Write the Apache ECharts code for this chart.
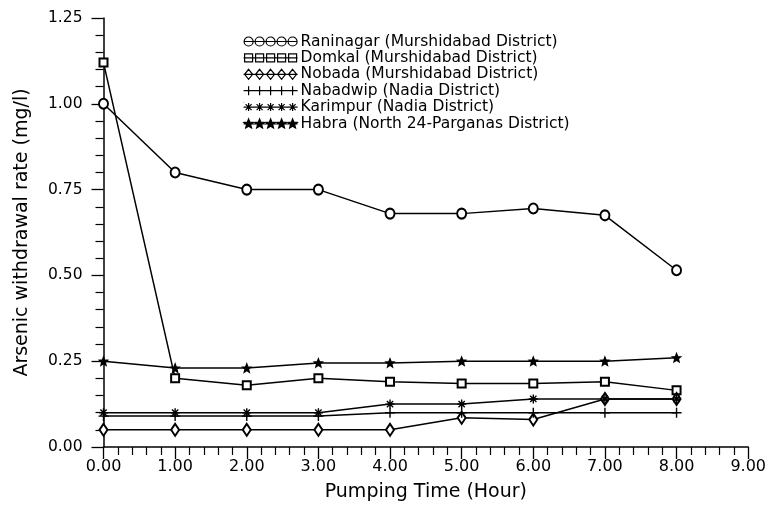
<!DOCTYPE html>
<html><head><meta charset="utf-8">
<script src="https://cdn.jsdelivr.net/npm/echarts@6/dist/echarts.min.js"></script>
<style>html,body{margin:0;padding:0;background:#fff}#c{width:769px;height:513px}</style>
</head><body><div id="c"></div>
<script>
const hours = [0, 1, 2, 3, 4, 5, 6, 7, 8];
const seriesNames = [
  'Raninagar (Murshidabad District)',
  'Domkal (Murshidabad District)',
  'Nobada (Murshidabad District)',
  'Nabadwip (Nadia District)',
  'Karimpur (Nadia District)',
  'Habra (North 24-Parganas District)'
];
const raninagar = [1.00, 0.80, 0.75, 0.75, 0.68, 0.68, 0.695, 0.675, 0.515];
const domkal    = [1.12, 0.20, 0.18, 0.20, 0.19, 0.185, 0.185, 0.19, 0.165];
const nobada    = [0.05, 0.05, 0.05, 0.05, 0.05, 0.085, 0.08, 0.14, 0.14];
const nabadwip  = [0.09, 0.09, 0.09, 0.09, 0.10, 0.10, 0.10, 0.10, 0.10];
const karimpur  = [0.10, 0.10, 0.10, 0.10, 0.125, 0.125, 0.14, 0.14, 0.14];
const habra     = [0.25, 0.23, 0.23, 0.245, 0.245, 0.25, 0.25, 0.25, 0.26];
const allValues = [raninagar, domkal, nobada, nabadwip, karimpur, habra];

// symbol shapes
const plusPath = 'path://M5,0L5,10M0,5L10,5';
const asteriskPath = 'path://M5,0L5,10M0,5L10,5M1.5,1.5L8.5,8.5M8.5,1.5L1.5,8.5';
function starPts(cx, cy, R, r) {
  let s = '';
  for (let i = 0; i < 10; i++) {
    const a = -Math.PI / 2 + i * Math.PI / 5;
    const rr = i % 2 === 0 ? R : r;
    s += (i === 0 ? 'M' : 'L') + (cx + rr * Math.cos(a)).toFixed(2) + ',' + (cy + rr * Math.sin(a)).toFixed(2);
  }
  return s + 'Z';
}
const starPath = 'path://' + starPts(5, 5, 5, 2.2);

const cs = [5, 16, 27, 38, 49];
const line = 'M0,5L54,5';
const legIcons = [
  'path://' + line + cs.map(c => `M${c-4.5},5A4.5,4.5,0,1,0,${c+4.5},5A4.5,4.5,0,1,0,${c-4.5},5`).join(''),
  'path://' + line + cs.map(c => `M${c-4},1L${c+4},1L${c+4},9L${c-4},9Z`).join(''),
  'path://' + line + cs.map(c => `M${c},0L${c+4},5L${c},10L${c-4},5Z`).join(''),
  'path://' + line + cs.map(c => `M${c},0.5L${c},9.5`).join('') + 'M0,0.5L0,0.6',
  'path://' + line + cs.map(c => `M${c},1L${c},9M${c-4},5L${c+4},5M${c-3},2L${c+3},8M${c+3},2L${c-3},8`).join('') + 'M0,0L0,0.1M0,10L0,9.9',
  'path://' + line + cs.map(c => starPts(c, 5, 5, 2.2)).join('')
];

const symbols = ['emptyCircle', 'emptyRect', 'emptyDiamond', plusPath, asteriskPath, starPath];
const sizes = [[9, 10], 8, [8, 12], 10, 9, 8];

const series = seriesNames.map((n, i) => ({
  name: n,
  type: 'line',
  data: hours.map((h, k) => [h, allValues[i][k]]),
  symbol: symbols[i],
  symbolSize: sizes[i],
  showAllSymbol: true,
  lineStyle: { color: '#000', width: 1.5 },
  itemStyle: { color: '#000', borderColor: '#000', borderWidth: 1.4 },
  emphasis: { disabled: true },
  animation: false,
  z: 2
}));

const chart = echarts.init(document.getElementById('c'), null, { renderer: 'canvas' });
chart.setOption({
  backgroundColor: '#fff',
  animation: false,
  textStyle: { fontFamily: 'DejaVu Sans', color: '#000' },
  grid: { left: 103.5, right: 17.5, top: 18, bottom: 66 },
  legend: {
    orient: 'vertical',
    left: 238, top: 28.5, padding: 5,
    itemWidth: 54, itemHeight: 10, itemGap: 0.4,
    selectedMode: false,
    textStyle: { fontFamily: 'DejaVu Sans', fontSize: 15.5, color: '#000', lineHeight: 15, padding: [0, 0, 0, -2] },
    data: seriesNames.map((n, i) => ({
      name: n, icon: legIcons[i],
      itemStyle: { color: i === 5 ? '#000' : 'rgba(0,0,0,0)', borderColor: '#000', borderWidth: 1.2 }
    }))
  },
  xAxis: {
    type: 'value', min: 0, max: 9, interval: 1,
    name: 'Pumping Time (Hour)', nameLocation: 'middle', nameGap: 36,
    nameTextStyle: { fontFamily: 'DejaVu Sans', fontSize: 19, color: '#000' },
    axisLine: { show: true, lineStyle: { color: '#000', width: 1.5 } },
    axisTick: { show: true, inside: false, length: 12, lineStyle: { color: '#000', width: 1.3 } },
    minorTick: { show: true, splitNumber: 5, length: 8, lineStyle: { color: '#000', width: 1.2 } },
    axisLabel: { fontFamily: 'DejaVu Sans', fontSize: 16, color: '#000', margin: 12, formatter: v => v.toFixed(2) },
    splitLine: { show: false }
  },
  yAxis: {
    type: 'value', min: 0, max: 1.25, interval: 0.25,
    name: 'Arsenic withdrawal rate (mg/l)', nameLocation: 'middle', nameGap: 72,
    nameTextStyle: { fontFamily: 'DejaVu Sans', fontSize: 19, color: '#000' },
    axisLine: { show: true, lineStyle: { color: '#000', width: 1.5 } },
    axisTick: { show: true, inside: false, length: 12, lineStyle: { color: '#000', width: 1.3 } },
    minorTick: { show: true, splitNumber: 5, length: 8, lineStyle: { color: '#000', width: 1.2 } },
    axisLabel: { fontFamily: 'DejaVu Sans', fontSize: 15.5, color: '#000', margin: 21, formatter: v => v.toFixed(2) },
    splitLine: { show: false }
  },
  series: series
});
</script></body></html>
